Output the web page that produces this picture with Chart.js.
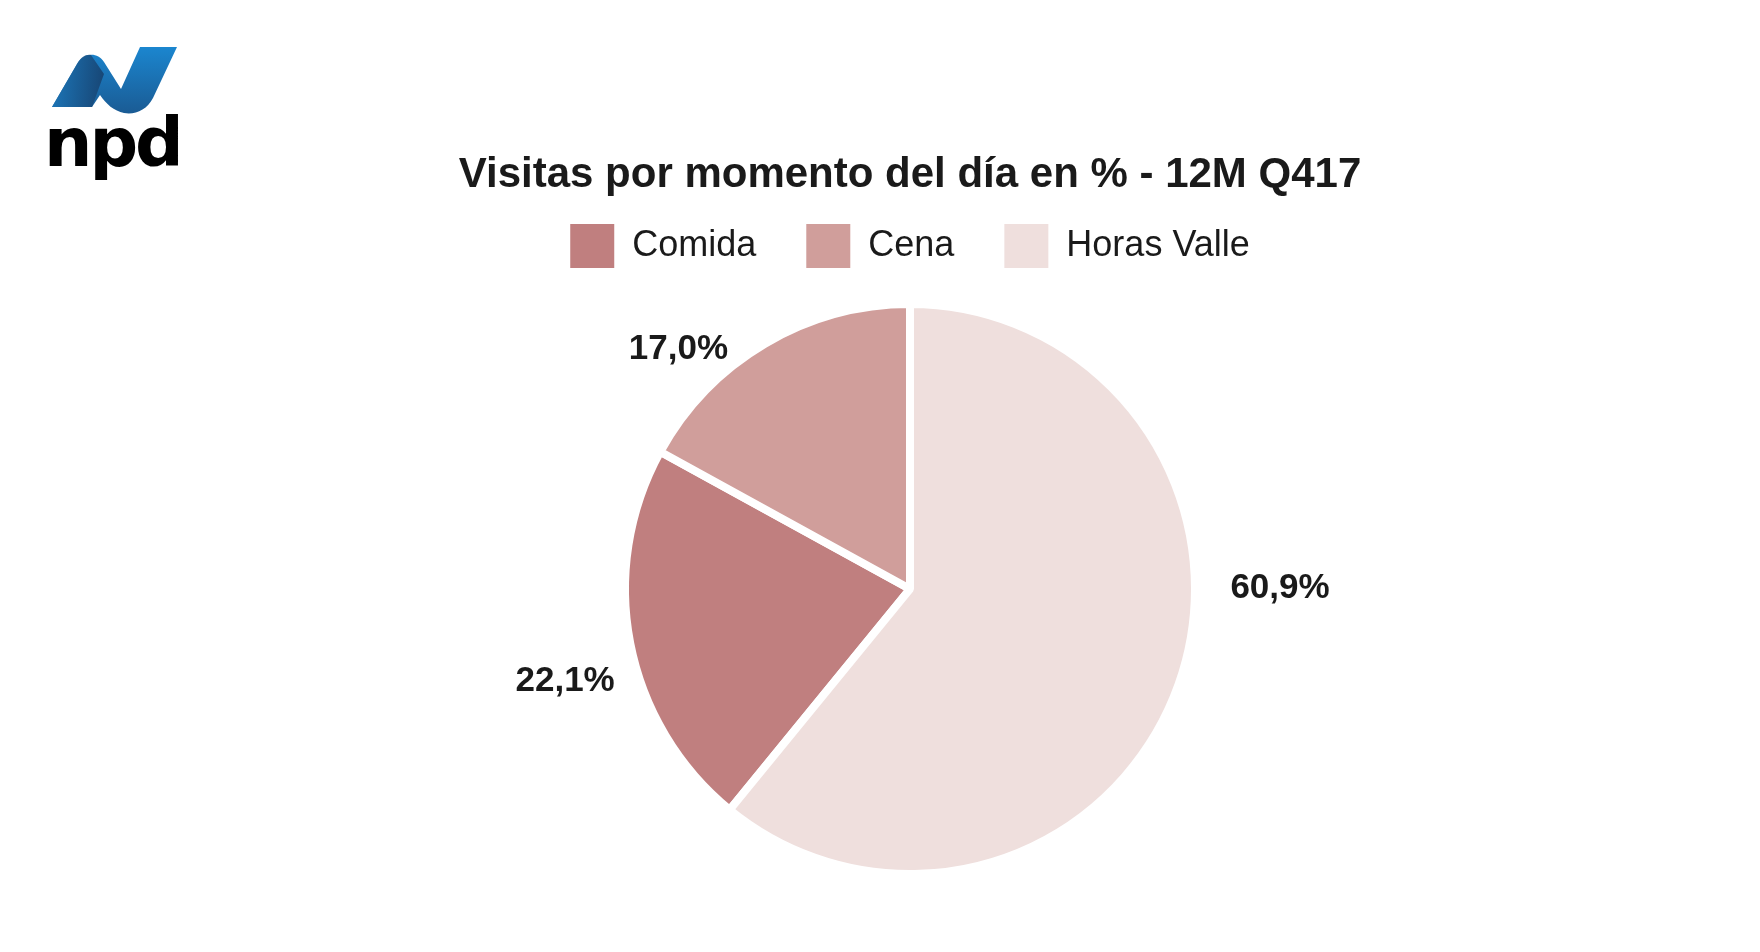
<!DOCTYPE html>
<html lang="es">
<head>
  <meta charset="UTF-8">
  <title>Visitas por momento del día</title>
  <style>
    body {
      margin: 0;
      background: #fff;
      overflow: hidden;
    }
    #wrap {
      position: relative;
      width: 1760px;
      height: 952px;
    }
    #logo {
      position: absolute;
      left: 40px;
      top: 40px;
    }
    canvas {
      display: block;
    }
  </style>
</head>
<body>
  <div id="wrap">
    <canvas id="pieChart" width="1760" height="952"></canvas>
    <svg id="logo" width="160" height="150" viewBox="40 40 160 150">
      <defs>
        <linearGradient id="ribbon" x1="0" y1="0" x2="0" y2="1">
          <stop offset="0" stop-color="#1b86cf"/>
          <stop offset="1" stop-color="#1a5b94"/>
        </linearGradient>
        <linearGradient id="leftLeg" x1="0" y1="0" x2="1" y2="0">
          <stop offset="0" stop-color="#1c76b8"/>
          <stop offset="1" stop-color="#173f6b"/>
        </linearGradient>
      </defs>
      <path d="M52,107 L77,64 C83,53 97,51 104,62 L121,89 L140,47 L177,47 L153,98 C147,110 135,115 124,113 C114,111 106,104 100,95 L92,107 Z" fill="url(#ribbon)"/>
      <path d="M52,107 L77,64 C81,57 86,54 91,55 L104,74 L92,107 Z" fill="url(#leftLeg)" opacity="0.85"/>
      <text x="44" y="166" font-family="DejaVu Sans" font-weight="bold" font-size="68" fill="#000" letter-spacing="-3">npd</text>
    </svg>
  </div>

  <script src="https://cdn.jsdelivr.net/npm/chart.js"></script>
  <script>
    const categories = ['Comida', 'Cena', 'Horas Valle'];
    const shares = [22.1, 17.0, 60.9];
    const sliceColors = ['#c07f7f', '#d09e9b', '#efdfdd'];
    const chartTitle = 'Visitas por momento del día en % - 12M Q417';

    const fontFamily = '"Liberation Sans Narrow", "Liberation Sans", Arial, sans-serif';
    const textColor = '#1a1a1a';

    // where each percentage sits: fraction along its slice and distance from centre
    const labelPlacement = [
      { f: 0.45, dist: 357 },
      { f: 0.28, dist: 333 },
      { f: 0.41, dist: 370 }
    ];

    const outsideLabels = {
      id: 'outsideLabels',
      afterDatasetsDraw(chart) {
        const ctx = chart.ctx;
        const meta = chart.getDatasetMeta(0);
        ctx.save();
        ctx.font = 'bold 35px ' + fontFamily;
        ctx.fillStyle = textColor;
        ctx.textAlign = 'center';
        ctx.textBaseline = 'middle';
        meta.data.forEach((arc, i) => {
          const p = arc.getProps(['x', 'y', 'startAngle', 'endAngle']);
          const pos = labelPlacement[i];
          const a = p.startAngle + pos.f * (p.endAngle - p.startAngle);
          const txt = shares[i].toFixed(1).replace('.', ',') + '%';
          ctx.fillText(txt, p.x + Math.cos(a) * pos.dist, p.y + Math.sin(a) * pos.dist);
        });
        ctx.restore();
      }
    };

    // start Comida right after Horas Valle so Horas Valle begins at 12 o'clock
    const startAngle = (shares[2] / 100) * 360;

    new Chart(document.getElementById('pieChart'), {
      type: 'pie',
      data: {
        labels: categories,
        datasets: [{
          data: shares,
          backgroundColor: sliceColors,
          borderColor: '#ffffff',
          borderWidth: 8,
          hoverOffset: 0
        }]
      },
      options: {
        responsive: false,
        animation: false,
        devicePixelRatio: 1,
        rotation: startAngle,
        radius: 285,
        layout: {
          padding: { left: 60, right: 0, top: 154, bottom: 52 }
        },
        plugins: {
          title: {
            display: true,
            text: chartTitle,
            color: textColor,
            font: { family: fontFamily, size: 42, weight: 'bold', lineHeight: 1.0 },
            padding: { top: 0, bottom: -22 }
          },
          legend: {
            position: 'top',
            labels: {
              color: textColor,
              boxWidth: 44,
              boxHeight: 44,
              padding: 50,
              font: { family: fontFamily, size: 36 },
              generateLabels(chart) {
                const items = Chart.overrides.doughnut.plugins.legend.labels.generateLabels(chart);
                items.forEach(it => { it.lineWidth = 0; });
                return items;
              }
            }
          },
          tooltip: { enabled: false }
        }
      },
      plugins: [outsideLabels]
    });
  </script>
</body>
</html>
